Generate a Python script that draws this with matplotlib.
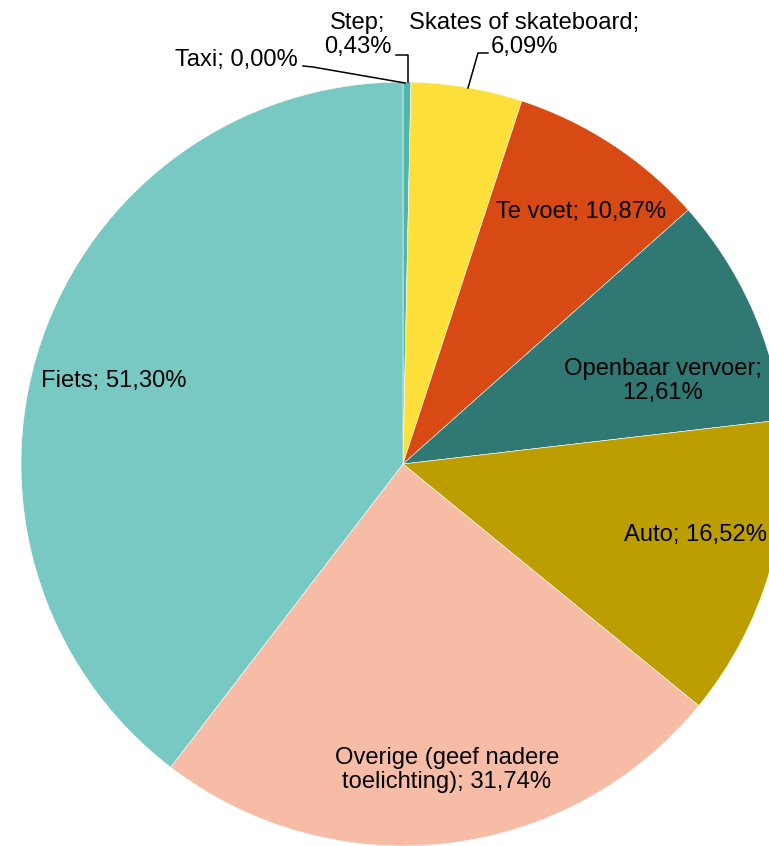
import matplotlib
matplotlib.use("Agg")
import matplotlib.pyplot as plt

# transport mode shares (multiple answers possible, so they sum above 100)
categories = ["Taxi", "Step", "Skates of skateboard", "Te voet",
              "Openbaar vervoer", "Auto", "Overige (geef nadere toelichting)", "Fiets"]
values = [0.00, 0.43, 6.09, 10.87, 12.61, 16.52, 31.74, 51.30]
colors = ["#4FB6AE", "#4FB6AE", "#FFE03B", "#D84A14",
          "#2F7873", "#BC9E00", "#F7BCA5", "#78C8C3"]

W, H = 769, 846
CX, CY, R = 403, 464, 382  # pixel coords, y from top


def pct(v):
    return f"{v:.2f}".replace(".", ",") + "%"


def make_label(name, v):
    if name == "Overige (geef nadere toelichting)":
        return "Overige (geef nadere\ntoelichting); " + pct(v)
    if name in ("Step", "Skates of skateboard", "Openbaar vervoer"):
        return name + ";\n" + pct(v)
    return name + "; " + pct(v)


# label centres in pixel coords (x, y from top)
label_pos = [(236, 60), (358, 35), (524, 35), (581, 212),
             (663, 381), (695, 535), (447, 770), (114, 381)]

# leader lines for the small outside labels
leaders = [
    [(303, 66), (313, 67), (405, 83)],
    [(396, 55), (408, 55), (408, 82)],
    [(488, 53), (478, 53), (468, 88)],
]

plt.rcParams["font.family"] = ["Liberation Sans", "DejaVu Sans"]

fig = plt.figure(figsize=(W / 100, H / 100), dpi=100)
ax = fig.add_axes([0, 0, 1, 1])

ax.pie(values, colors=colors, startangle=90, counterclock=False,
       center=(CX, H - CY), radius=R,
       wedgeprops=dict(edgecolor="white", linewidth=0.4))

for name, v, (x, y) in zip(categories, values, label_pos):
    ax.text(x, H - y, make_label(name, v), ha="center", va="center",
            fontsize=17.1, color="#000000", linespacing=1.12)

for pts in leaders:
    xs = [p[0] for p in pts]
    ys = [H - p[1] for p in pts]
    ax.plot(xs, ys, color="#000000", lw=1.1)

ax.set_xlim(0, W)
ax.set_ylim(0, H)
ax.set_aspect("equal")
ax.axis("off")

fig.savefig("out.png", dpi=100)
